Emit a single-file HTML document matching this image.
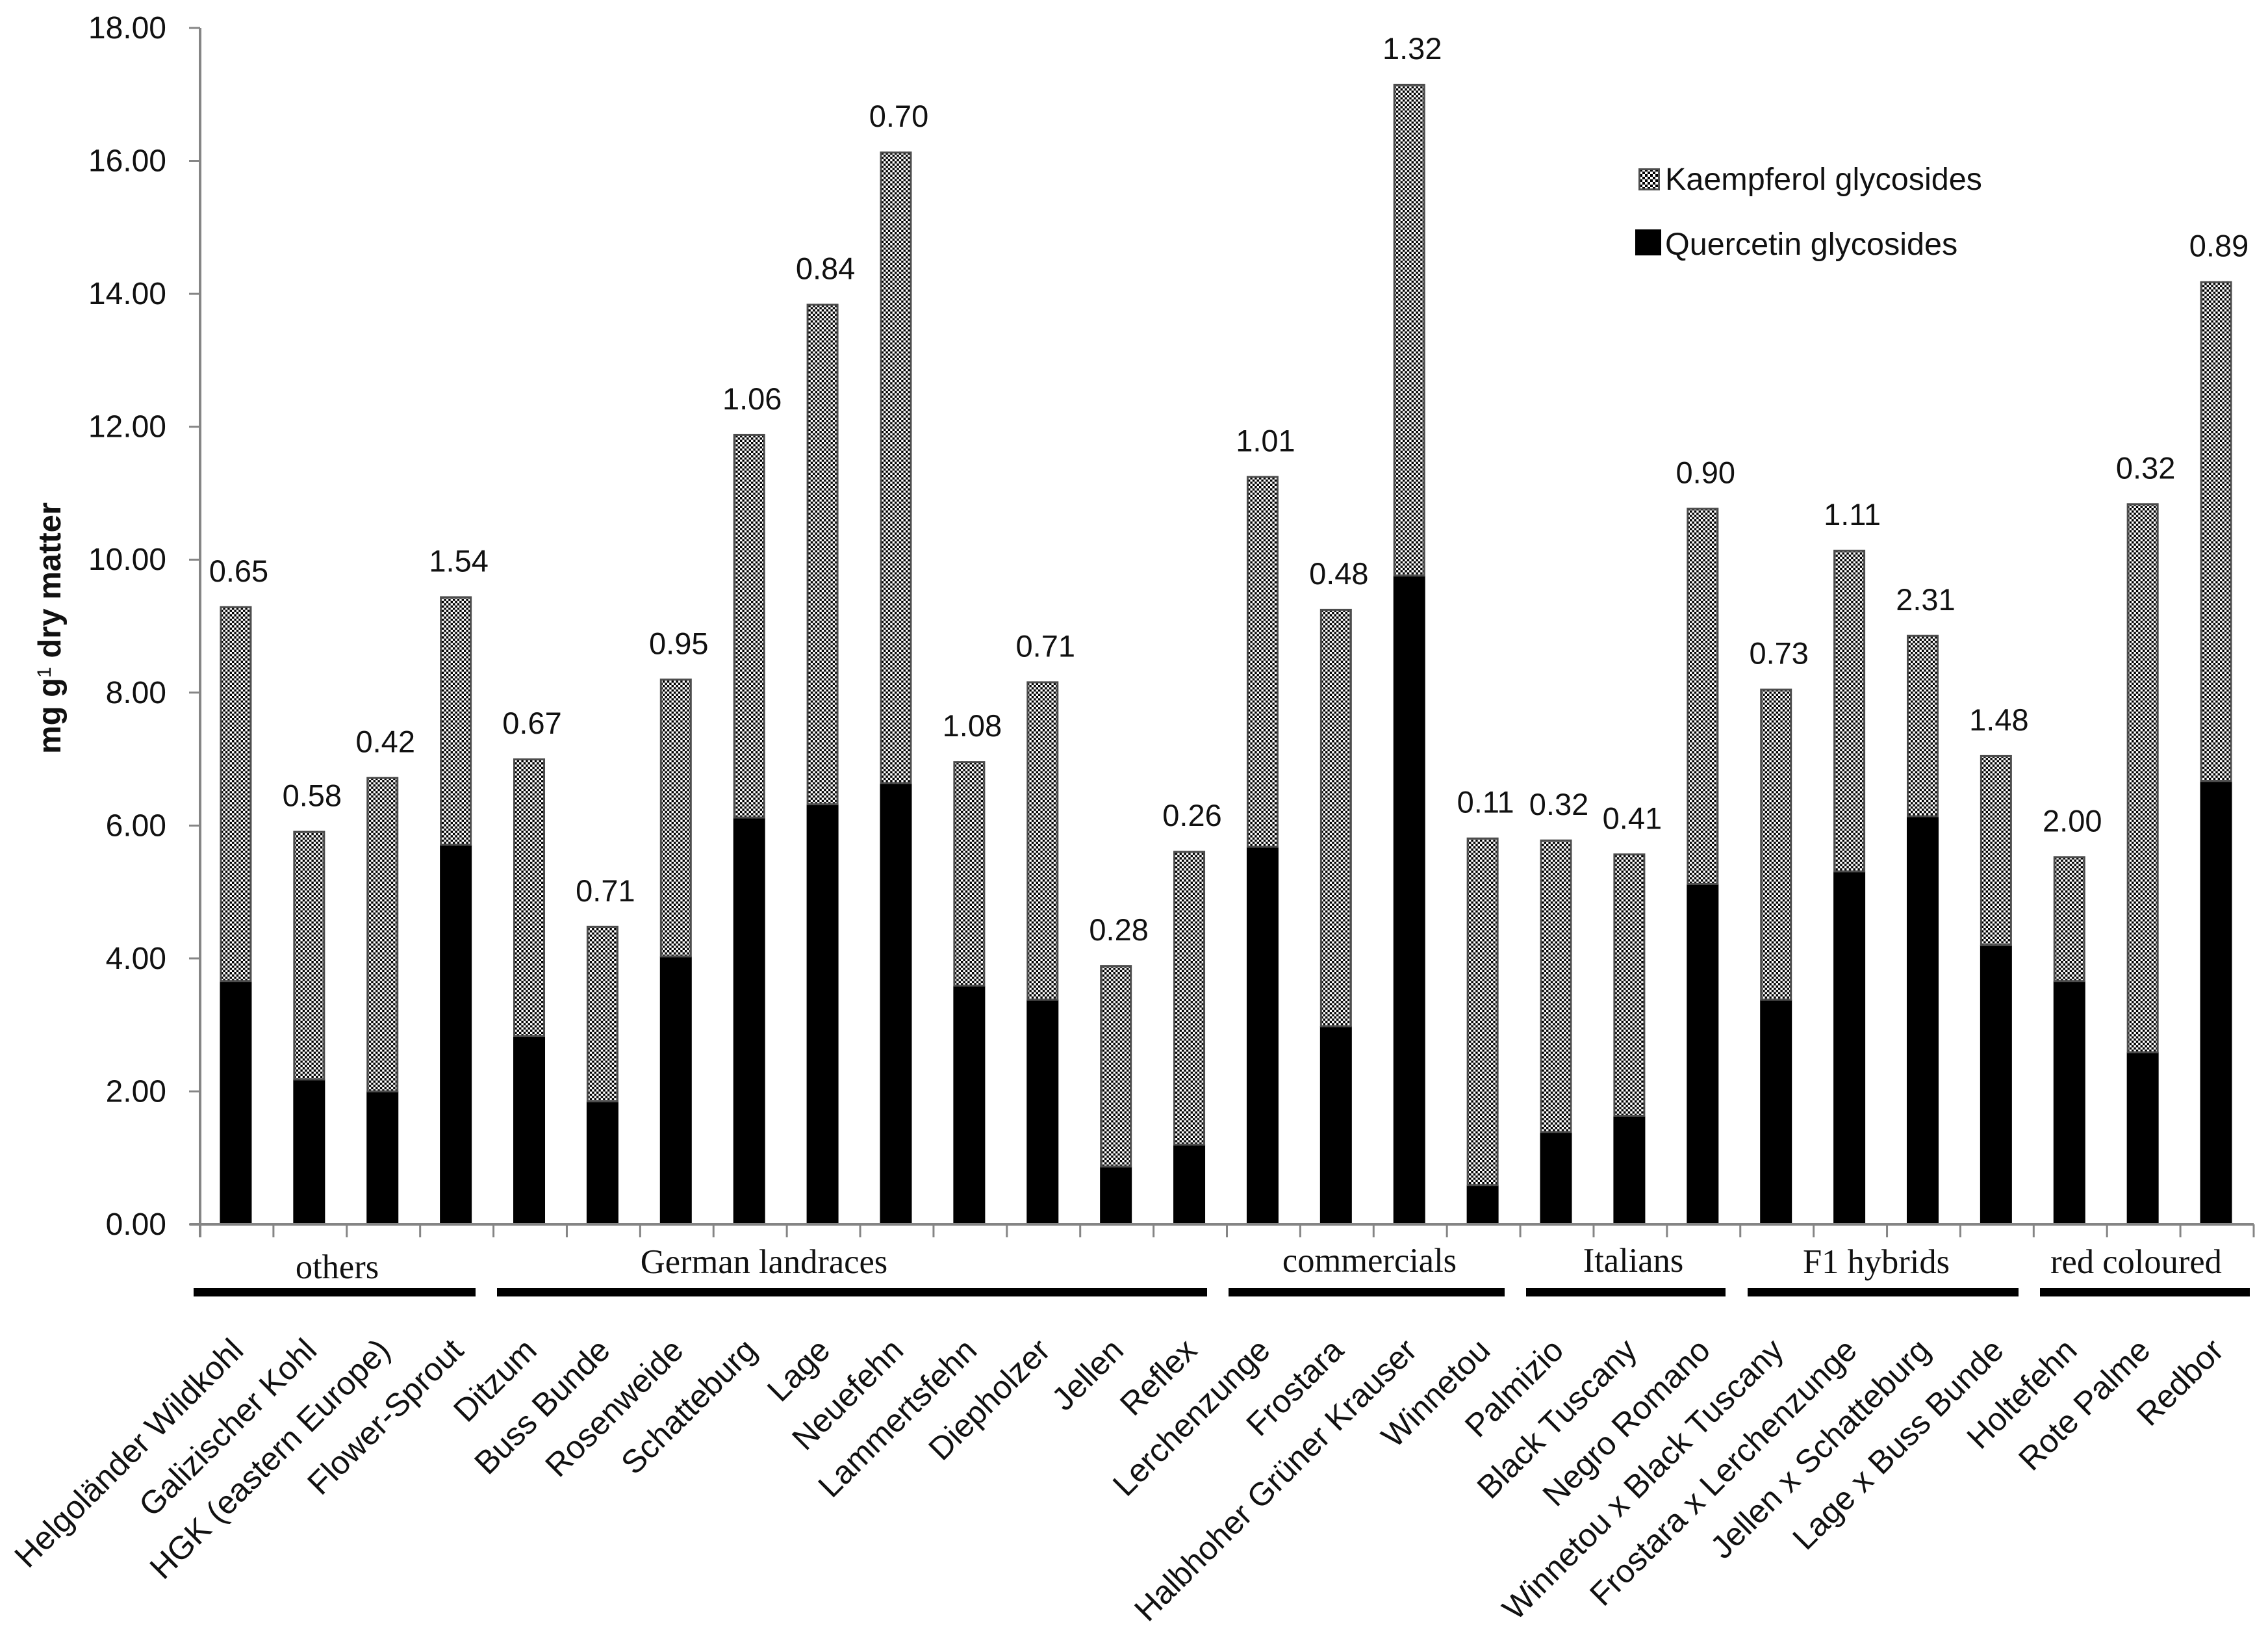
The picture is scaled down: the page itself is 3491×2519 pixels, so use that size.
<!DOCTYPE html>
<html lang="en">
<head>
<meta charset="utf-8">
<title>Flavonol glycosides in kale cultivars</title>
<style>
  html, body { margin: 0; padding: 0; background: #fff; }
  #stage { display: block; width: 3491px; height: 2519px; }
  text { fill: #111; font-family: "Liberation Sans", sans-serif; }
  .group-label { font-family: "Liberation Serif", serif; font-size: 52.5px; text-anchor: middle; }
  .legend-text { font-size: 48.5px; }
</style>
</head>
<body>
<svg id="stage" xmlns="http://www.w3.org/2000/svg" width="3491" height="2519" viewBox="0 0 3491 2519">
  <defs>
    <pattern id="checker" patternUnits="userSpaceOnUse" width="6.8" height="6.8">
      <rect width="6.8" height="6.8" fill="#fff"></rect>
      <rect width="3.4" height="3.4" fill="#000"></rect>
      <rect x="3.4" y="3.4" width="3.4" height="3.4" fill="#000"></rect>
    </pattern>
    <pattern id="checker-legend" patternUnits="userSpaceOnUse" width="8" height="8">
      <rect width="8" height="8" fill="#fff"></rect>
      <rect width="4" height="4" fill="#000"></rect>
      <rect x="4" y="4" width="4" height="4" fill="#000"></rect>
    </pattern>
  </defs>
  <rect width="3491" height="2519" fill="#fff"></rect>

  <g id="bars"></g>
  <g id="axes"></g>
  <g id="value-labels"></g>
  <g id="category-labels"></g>

  <g>
    <text transform="translate(93,1160) rotate(-90)" font-size="49" font-weight="700" style="font-family:'Liberation Sans',sans-serif">mg g<tspan dy="-15" font-size="30" font-weight="400">1</tspan><tspan dy="15"> dry matter</tspan></text>
  </g>

  <g>
    <rect x="298" y="1982" width="434" height="13" fill="#000"></rect>
    <rect x="765" y="1982" width="1093" height="13" fill="#000"></rect>
    <rect x="1891" y="1982" width="425" height="13" fill="#000"></rect>
    <rect x="2349" y="1982" width="307" height="13" fill="#000"></rect>
    <rect x="2690" y="1982" width="417" height="13" fill="#000"></rect>
    <rect x="3140" y="1982" width="323" height="13" fill="#000"></rect>
    <text class="group-label" x="519" y="1967">others</text>
    <text class="group-label" x="1176" y="1959">German landraces</text>
    <text class="group-label" x="2108" y="1957">commercials</text>
    <text class="group-label" x="2514" y="1957">Italians</text>
    <text class="group-label" x="2888" y="1959">F1 hybrids</text>
    <text class="group-label" x="3288" y="1959">red coloured</text>
  </g>

  <g>
    <rect x="2523.5" y="260.5" width="30" height="31" fill="url(#checker-legend)" stroke="#4d4d4d" stroke-width="3"></rect>
    <text class="legend-text" x="2563" y="292">Kaempferol glycosides</text>
    <rect x="2517" y="353" width="40" height="40" fill="#000"></rect>
    <text class="legend-text" x="2563" y="392">Quercetin glycosides</text>
  </g>
</svg>

<script>
const categories = ["Helgoländer Wildkohl", "Galizischer Kohl", "HGK (eastern Europe)", "Flower-Sprout", "Ditzum", "Buss Bunde", "Rosenweide", "Schatteburg", "Lage", "Neuefehn", "Lammertsfehn", "Diepholzer", "Jellen", "Reflex", "Lerchenzunge", "Frostara", "Halbhoher Grüner Krauser", "Winnetou", "Palmizio", "Black Tuscany", "Negro Romano", "Winnetou x Black Tuscany", "Frostara x Lerchenzunge", "Jellen x Schatteburg", "Lage x Buss Bunde", "Holtefehn", "Rote Palme", "Redbor"];
const quercetin = [3.66, 2.18, 2.00, 5.71, 2.83, 1.85, 4.03, 6.12, 6.32, 6.64, 3.59, 3.38, 0.87, 1.20, 5.68, 2.98, 9.76, 0.59, 1.39, 1.63, 5.12, 3.38, 5.31, 6.14, 4.20, 3.66, 2.59, 6.67];
const kaempferol = [5.64, 3.74, 4.73, 3.74, 4.18, 2.64, 4.18, 5.77, 7.53, 9.50, 3.38, 4.79, 3.03, 4.42, 5.58, 6.28, 7.40, 5.23, 4.40, 3.95, 5.66, 4.68, 4.84, 2.73, 2.86, 1.88, 8.26, 7.52];
const errorLabels = ["0.65", "0.58", "0.42", "1.54", "0.67", "0.71", "0.95", "1.06", "0.84", "0.70", "1.08", "0.71", "0.28", "0.26", "1.01", "0.48", "1.32", "0.11", "0.32", "0.41", "0.90", "0.73", "1.11", "2.31", "1.48", "2.00", "0.32", "0.89"];
const yTicks = ["0.00", "2.00", "4.00", "6.00", "8.00", "10.00", "12.00", "14.00", "16.00", "18.00"];

const PLOT_LEFT = 308;
const PLOT_RIGHT = 3469;
const PLOT_BOTTOM = 1884;
const PLOT_TOP = 43;
const Y_MAX = 18;
const BAR_WIDTH = 49;
const BAR_SHIFT = -1.5;

function yScale(v) { return PLOT_BOTTOM - (v / Y_MAX) * (PLOT_BOTTOM - PLOT_TOP); }
function slotWidth() { return (PLOT_RIGHT - PLOT_LEFT) / categories.length; }
function xEdge(i) { return PLOT_LEFT + i * slotWidth(); }
function xCenter(i) { return xEdge(i) + slotWidth() / 2; }
function slug(s) { return s.toLowerCase().replace(/[^a-z0-9]+/g, '-').replace(/^-|-$/g, ''); }
function make(tag) { return document.createElementNS('http://www.w3.org/2000/svg', tag); }

const barsG = document.getElementById('bars');
const axesG = document.getElementById('axes');
const valuesG = document.getElementById('value-labels');
const catsG = document.getElementById('category-labels');

categories.forEach(function (name, i) {
  const q = quercetin[i];
  const k = kaempferol[i];
  const x = xCenter(i) + BAR_SHIFT - BAR_WIDTH / 2;

  const qBar = make('rect');
  
  
  qBar.setAttribute('x', x);
  qBar.setAttribute('y', yScale(q));
  qBar.setAttribute('width', BAR_WIDTH);
  qBar.setAttribute('height', yScale(0) - yScale(q));
  qBar.setAttribute('fill', '#000');
  barsG.appendChild(qBar);

  const kBar = make('rect');
  
  
  kBar.setAttribute('x', x + 1.5);
  kBar.setAttribute('y', yScale(q + k) + 1.5);
  kBar.setAttribute('width', BAR_WIDTH - 3);
  kBar.setAttribute('height', yScale(q) - yScale(q + k) - 1.5);
  kBar.setAttribute('fill', 'url(#checker)');
  kBar.setAttribute('stroke', '#4d4d4d');
  kBar.setAttribute('stroke-width', '3');
  barsG.appendChild(kBar);

  const val = make('text');
  
  
  val.setAttribute('x', xCenter(i) + 3);
  val.setAttribute('y', yScale(q + k) - 38);
  val.setAttribute('font-size', '47');
  val.setAttribute('text-anchor', 'middle');
  val.textContent = errorLabels[i];
  valuesG.appendChild(val);

  const cat = make('text');
  
  
  cat.setAttribute('transform', 'translate(' + (xCenter(i) + 13) + ',2081) rotate(-45)');
  cat.setAttribute('font-size', '50');
  cat.setAttribute('text-anchor', 'end');
  cat.textContent = name;
  catsG.appendChild(cat);
});

const yAxisLine = make('line');


yAxisLine.setAttribute('x1', PLOT_LEFT);
yAxisLine.setAttribute('x2', PLOT_LEFT);
yAxisLine.setAttribute('y1', PLOT_TOP);
yAxisLine.setAttribute('y2', PLOT_BOTTOM + 20);
yAxisLine.setAttribute('stroke', '#858585');
yAxisLine.setAttribute('stroke-width', '4');
axesG.appendChild(yAxisLine);

const xAxisLine = make('line');


xAxisLine.setAttribute('x1', PLOT_LEFT - 16);
xAxisLine.setAttribute('x2', PLOT_RIGHT);
xAxisLine.setAttribute('y1', PLOT_BOTTOM);
xAxisLine.setAttribute('y2', PLOT_BOTTOM);
xAxisLine.setAttribute('stroke', '#858585');
xAxisLine.setAttribute('stroke-width', '4');
axesG.appendChild(xAxisLine);

yTicks.forEach(function (label) {
  const y = yScale(parseFloat(label));

  const tick = make('line');
  
  
  tick.setAttribute('x1', PLOT_LEFT - 17);
  tick.setAttribute('x2', PLOT_LEFT);
  tick.setAttribute('y1', y);
  tick.setAttribute('y2', y);
  tick.setAttribute('stroke', '#858585');
  tick.setAttribute('stroke-width', '3');
  axesG.appendChild(tick);

  const text = make('text');
  
  
  text.setAttribute('x', 256);
  text.setAttribute('y', y + 16);
  text.setAttribute('font-size', '48');
  text.setAttribute('text-anchor', 'end');
  text.textContent = label;
  axesG.appendChild(text);
});

for (let i = 0; i <= categories.length; i++) {
  const tick = make('line');
  
  
  tick.setAttribute('x1', xEdge(i));
  tick.setAttribute('x2', xEdge(i));
  tick.setAttribute('y1', PLOT_BOTTOM);
  tick.setAttribute('y2', PLOT_BOTTOM + 20);
  tick.setAttribute('stroke', '#858585');
  tick.setAttribute('stroke-width', '3');
  axesG.appendChild(tick);
}
</script>
</body>
</html>
